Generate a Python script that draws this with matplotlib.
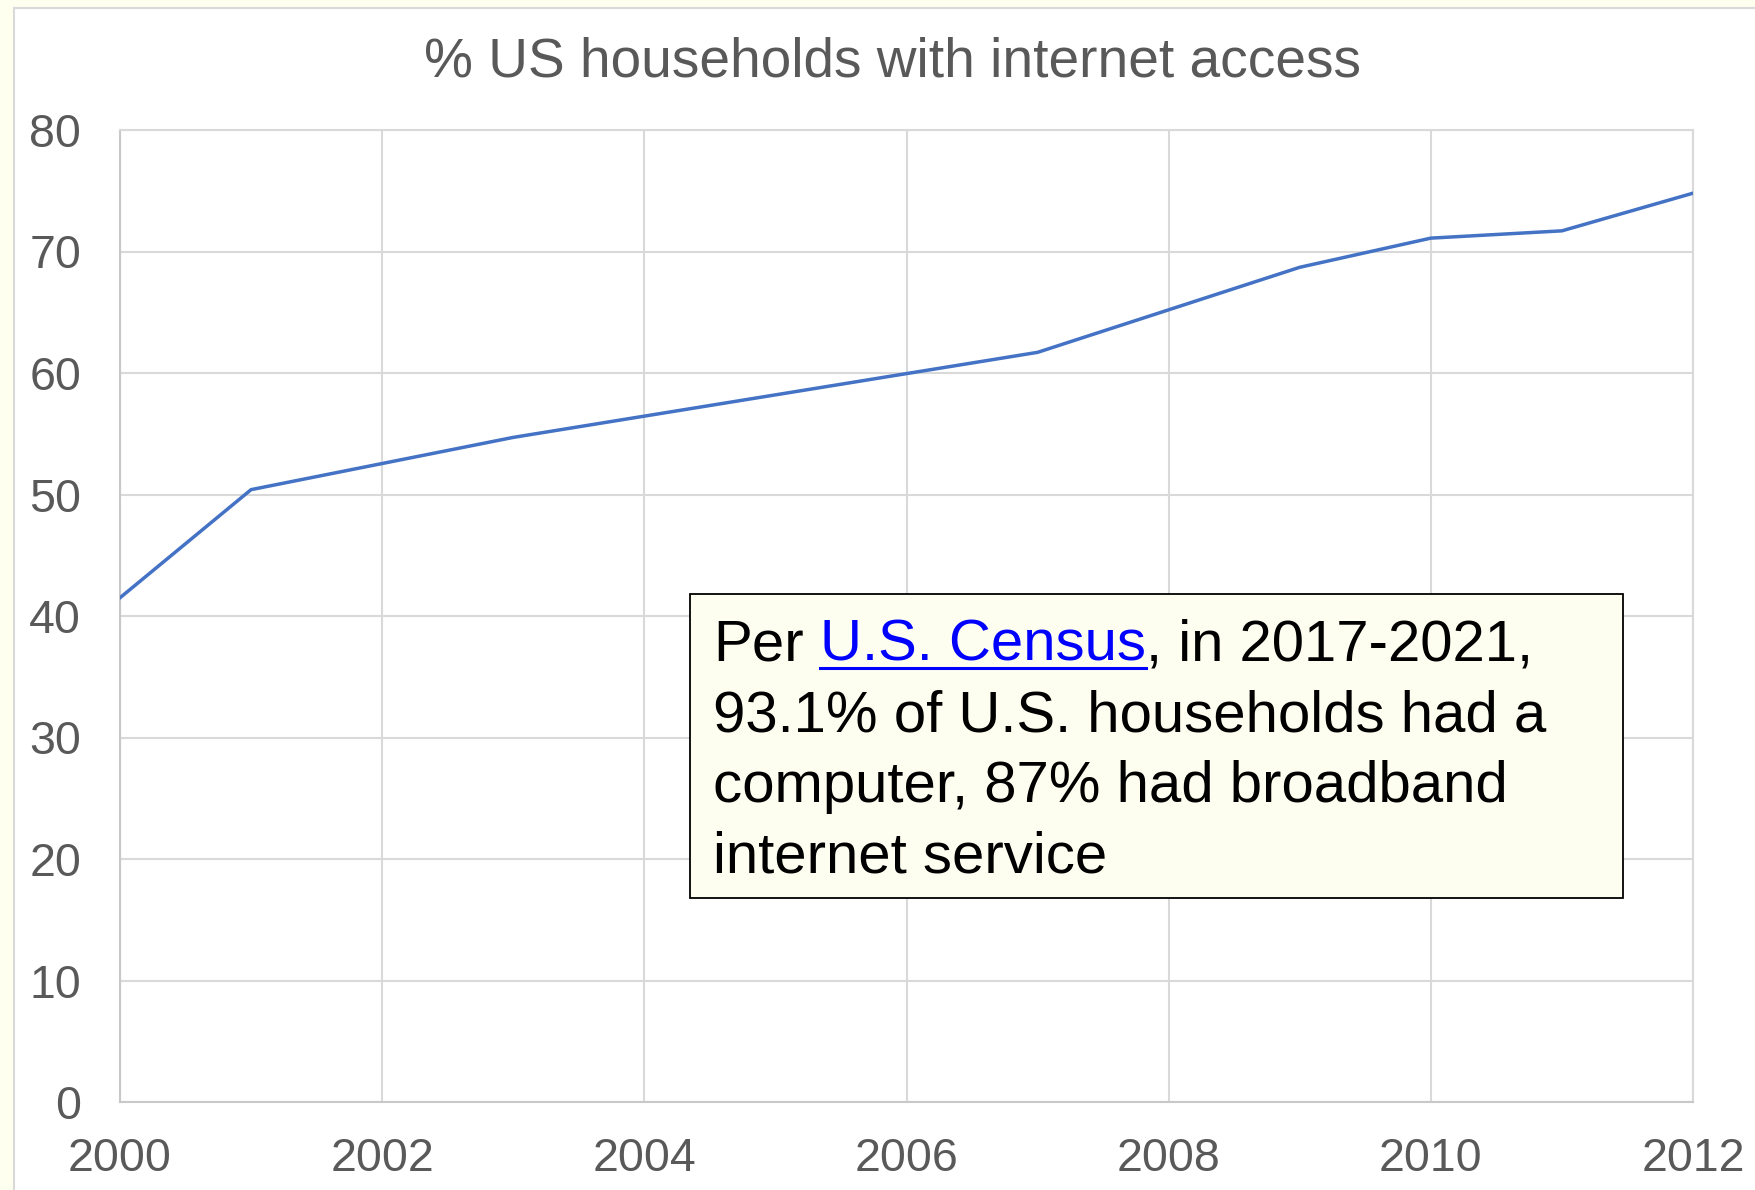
import matplotlib.pyplot as plt
from matplotlib.patches import Rectangle
from matplotlib.lines import Line2D

plt.rcParams['font.family'] = ['Liberation Sans', 'DejaVu Sans']

# census survey years and % of households with internet access
years = [2000, 2001, 2003, 2007, 2009, 2010, 2011, 2012]
pct = [41.5, 50.4, 54.7, 61.7, 68.7, 71.1, 71.7, 74.8]

xticks = [2000, 2002, 2004, 2006, 2008, 2010, 2012]
yticks = [0, 10, 20, 30, 40, 50, 60, 70, 80]

title = '% US households with internet access'
note_lines = ['93.1% of U.S. households had a',
              'computer, 87% had broadband',
              'internet service']

W, H = 1755, 1190
grey = '#595959'
gridc = '#D9D9D9'

fig = plt.figure(figsize=(W / 100, H / 100), dpi=100)
fig.patch.set_facecolor('#FFFFF0')

# white chart panel, kept behind the axes
fig.patches.append(Rectangle((13.5 / W, -0.01), 1.0, 1 - 8 / H + 0.01, transform=fig.transFigure,
                             facecolor='white', edgecolor=gridc, linewidth=1.5, zorder=-1))

ax = fig.add_axes([120 / W, 1 - 1102 / H, (1693 - 120) / W, (1102 - 130) / H])
ax.plot(years, pct, color='#4472C4', linewidth=2.5, zorder=3)

ax.set_xlim(2000, 2012)
ax.set_ylim(0, 80)
ax.set_xticks(xticks)
ax.set_yticks(yticks)
ax.grid(True, color=gridc, linewidth=1.5, zorder=0)
ax.set_axisbelow(True)
for s in ax.spines.values():
    s.set_color(gridc)
    s.set_linewidth(1.5)
ax.spines['left'].set_color('#C8C8C8')
ax.spines['bottom'].set_color('#C8C8C8')
ax.tick_params(axis='x', length=0, pad=25, labelsize=33.5, labelcolor=grey)
ax.tick_params(axis='y', length=0, pad=28, labelsize=33.5, labelcolor=grey)

fig.text(892.5 / W, 1 - 76.7 / H, title, ha='center', va='baseline', fontsize=39.6, color=grey)

# note box
fig.patches.append(Rectangle((690 / W, 1 - 898 / H), (1623 - 690) / W, (898 - 594) / H,
                             transform=fig.transFigure, facecolor='#FEFEF0', edgecolor='black',
                             linewidth=1.3, zorder=5))

fs = 41.9
x0 = 713 / W
t1 = fig.text(x0, 1 - 660.7 / H, 'Per', fontsize=fs, color='black', va='baseline', zorder=6)
t2 = fig.add_artist(plt.Annotation('U.S. Census', xy=(1, 0), xycoords=t1, xytext=(fs * 0.278, 0),
                                   textcoords='offset points', va='bottom', ha='left',
                                   fontsize=fs, color='#0000FF', zorder=6))
t3 = fig.add_artist(plt.Annotation(', in 2017-2021,', xy=(1, 0), xycoords=t2, va='bottom', ha='left',
                                   fontsize=fs, color='black', zorder=6))
for i, line in enumerate(note_lines):
    fig.text(x0, 1 - (731.2 + 70.5 * i) / H, line, fontsize=fs, color='black', va='baseline', zorder=6)

# underline the link
r = fig.canvas.get_renderer()
bb = t2.get_window_extent(r)
fig.add_artist(Line2D([bb.x0 / W, bb.x1 / W], [1 - 668 / H, 1 - 668 / H], transform=fig.transFigure,
                      color='#0000FF', linewidth=2.2, zorder=6))

plt.savefig('out.png', dpi=100, facecolor=fig.get_facecolor())
